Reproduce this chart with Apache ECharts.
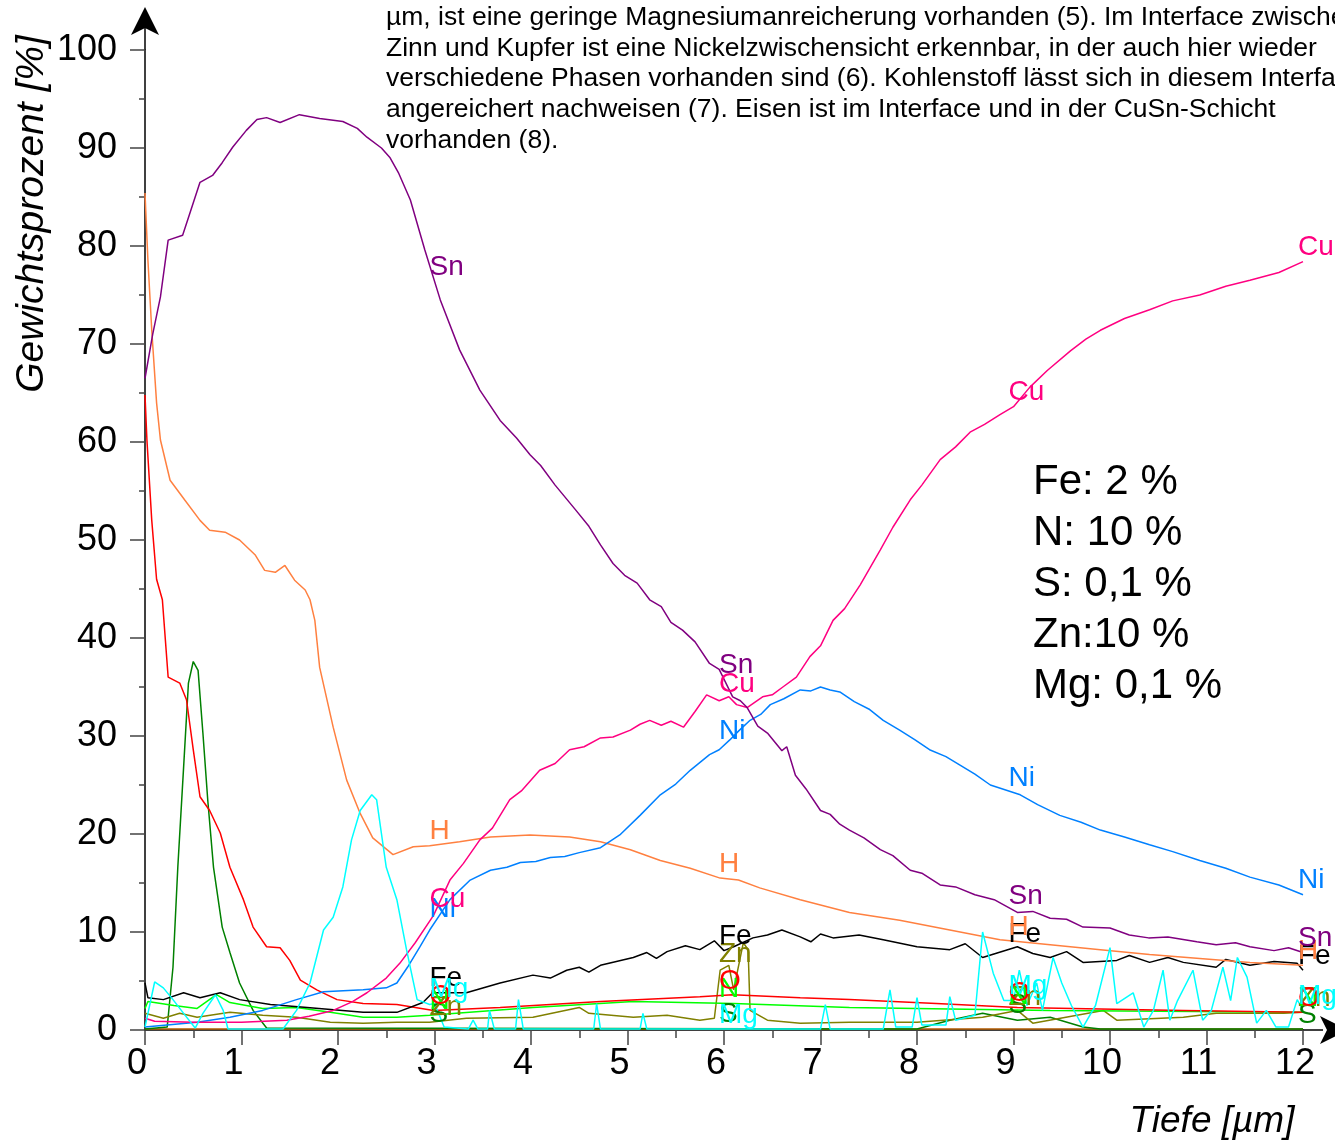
<!DOCTYPE html>
<html>
<head>
<meta charset="utf-8">
<script src="https://cdn.jsdelivr.net/npm/echarts@6/dist/echarts.min.js"></script>
<style>
  html, body { margin: 0; padding: 0; background: #fff; }
  #chart { width: 1335px; height: 1143px; }
</style>
</head>
<body>
<div id="chart"></div>
<script>
// Tiefenprofil: [Tiefe µm, Gewichtsprozent]
var snData = [[0,66.5],[0.08,71],[0.16,74.8],[0.24,80.6],[0.39,81.1],[0.47,83.5],[0.57,86.5],[0.7,87.2],[0.8,88.5],[0.91,90.1],[1.05,91.8],[1.16,92.9],[1.26,93.1],[1.4,92.6],[1.6,93.4],[1.81,93.0],[2.05,92.7],[2.2,92.0],[2.3,91.1],[2.45,90.0],[2.54,89.0],[2.63,87.4],[2.75,84.7],[2.9,79.6],[3.06,74.5],[3.26,69.4],[3.47,65.3],[3.68,62.2],[3.85,60.4],[3.99,58.7],[4.1,57.6],[4.25,55.6],[4.46,53.1],[4.6,51.4],[4.72,49.5],[4.85,47.6],[4.97,46.4],[5.1,45.6],[5.23,43.9],[5.35,43.2],[5.45,41.6],[5.57,40.8],[5.7,39.6],[5.85,37.4],[5.95,36.8],[6.09,34.0],[6.17,33.6],[6.24,32.9],[6.35,31.0],[6.45,30.3],[6.6,28.5],[6.65,28.9],[6.74,26.0],[6.85,24.6],[7.0,22.4],[7.1,22.0],[7.2,21.0],[7.3,20.4],[7.45,19.6],[7.62,18.4],[7.75,17.8],[7.93,16.3],[8.05,16.0],[8.24,14.8],[8.4,14.6],[8.6,13.8],[8.8,13.3],[9.04,12.0],[9.2,12.1],[9.38,11.4],[9.55,11.3],[9.72,10.5],[10.0,10.4],[10.2,9.7],[10.4,9.4],[10.6,9.5],[10.9,9.0],[11.1,8.7],[11.3,8.9],[11.45,8.5],[11.7,8.1],[11.85,8.4],[12,7.9]];
var cuData = [[0,1.2],[0.1,0.9],[0.5,0.8],[1.0,0.8],[1.47,1.0],[1.7,1.4],[1.95,2.0],[2.15,2.9],[2.3,3.8],[2.5,5.3],[2.64,6.8],[2.8,8.9],[2.99,11.7],[3.16,15.3],[3.3,17.0],[3.47,19.4],[3.6,20.6],[3.78,23.5],[3.9,24.4],[4.09,26.5],[4.25,27.2],[4.4,28.6],[4.55,28.9],[4.72,29.8],[4.85,29.9],[5.03,30.6],[5.13,31.2],[5.23,31.6],[5.35,31.1],[5.45,31.5],[5.58,30.9],[5.7,32.5],[5.82,34.2],[5.95,33.6],[6.05,34.0],[6.13,33.2],[6.24,32.9],[6.4,34.0],[6.5,34.2],[6.61,35.0],[6.75,36.0],[6.89,38.1],[7.0,39.2],[7.13,41.8],[7.25,43.0],[7.41,45.4],[7.62,49.0],[7.75,51.3],[7.93,54.1],[8.05,55.6],[8.24,58.2],[8.4,59.5],[8.55,61.0],[8.7,61.8],[8.86,62.8],[9.0,63.6],[9.17,65.6],[9.35,67.3],[9.59,69.3],[9.75,70.5],[9.9,71.4],[10.15,72.6],[10.41,73.5],[10.65,74.4],[10.93,75.0],[11.2,75.9],[11.45,76.5],[11.75,77.3],[12,78.4]];
var niData = [[0,0.3],[0.54,0.8],[0.88,1.3],[1.22,2.0],[1.57,3.1],[1.85,3.9],[2.26,4.1],[2.5,4.3],[2.61,4.8],[2.72,6.4],[2.85,8.5],[2.95,10.2],[3.16,13.3],[3.37,15.3],[3.58,16.3],[3.75,16.6],[3.89,17.1],[4.05,17.2],[4.2,17.6],[4.35,17.7],[4.5,18.1],[4.72,18.6],[4.92,19.9],[5.13,21.9],[5.34,24.0],[5.5,25.1],[5.65,26.5],[5.85,28.1],[5.95,28.6],[6.06,29.6],[6.15,30.5],[6.27,31.6],[6.38,32.2],[6.48,33.2],[6.62,33.8],[6.79,34.7],[6.9,34.6],[7.0,35.0],[7.1,34.7],[7.2,34.5],[7.35,33.5],[7.51,32.7],[7.65,31.6],[7.82,30.6],[7.98,29.6],[8.13,28.6],[8.3,27.9],[8.45,27.0],[8.6,26.1],[8.76,25.0],[9.07,24.0],[9.25,23.0],[9.48,21.9],[9.7,21.2],[9.9,20.4],[10.15,19.7],[10.41,18.9],[10.65,18.2],[10.93,17.3],[11.2,16.5],[11.45,15.6],[11.75,14.8],[12,13.8]];
var hData = [[0,85.4],[0.03,78.6],[0.07,71.4],[0.12,64],[0.16,60.2],[0.26,56.1],[0.41,54.1],[0.57,52.0],[0.67,51.0],[0.83,50.8],[0.98,50.0],[1.14,48.5],[1.24,46.9],[1.35,46.7],[1.45,47.4],[1.55,45.9],[1.66,44.9],[1.71,43.9],[1.76,41.8],[1.81,37.0],[1.95,30.9],[2.09,25.5],[2.23,22.1],[2.36,19.6],[2.57,17.9],[2.78,18.7],[2.95,18.8],[3.26,19.2],[3.58,19.7],[3.99,19.9],[4.4,19.7],[4.72,19.2],[5.03,18.4],[5.34,17.3],[5.65,16.5],[5.96,15.5],[6.15,15.3],[6.37,14.5],[6.79,13.3],[7.3,12.0],[7.82,11.2],[8.34,10.2],[8.86,9.2],[9.38,8.7],[9.9,8.2],[10.41,7.7],[10.93,7.3],[11.45,6.9],[12,6.6]];
var feData = [[0,4.8],[0.03,3.3],[0.19,3.1],[0.4,3.8],[0.57,3.3],[0.78,3.8],[0.98,3.1],[1.3,2.6],[1.68,2.3],[2.26,1.8],[2.61,1.8],[2.88,2.8],[2.98,3.8],[3.33,3.8],[3.68,4.8],[4.02,5.6],[4.2,5.3],[4.37,6.1],[4.5,6.4],[4.6,5.9],[4.72,6.6],[5.06,7.4],[5.2,7.9],[5.3,7.3],[5.41,8.0],[5.6,8.6],[5.75,8.2],[5.9,9.1],[6.0,8.1],[6.1,8.5],[6.3,9.4],[6.45,9.7],[6.6,10.2],[6.79,9.5],[6.9,9.0],[7.0,9.8],[7.13,9.4],[7.4,9.7],[7.65,9.2],[8.0,8.5],[8.34,8.2],[8.5,8.8],[8.68,7.4],[9.04,8.5],[9.2,7.8],[9.38,7.4],[9.55,8.0],[9.72,6.9],[10.07,7.1],[10.2,7.6],[10.41,6.9],[10.6,7.4],[10.76,6.9],[11.1,6.4],[11.2,7.2],[11.45,6.6],[11.7,7.0],[11.94,6.8],[12,6.1]];
var oData = [[0,64.8],[0.02,60.2],[0.07,52],[0.12,46],[0.18,43.9],[0.24,36.0],[0.36,35.4],[0.43,33.7],[0.5,28.6],[0.57,23.8],[0.67,22.4],[0.78,20.1],[0.88,16.6],[1.02,13.3],[1.12,10.5],[1.26,8.5],[1.4,8.4],[1.5,7.1],[1.61,5.1],[1.78,4.1],[1.99,3.1],[2.26,2.7],[2.61,2.6],[2.99,2.0],[3.68,2.3],[4.72,2.9],[5.75,3.4],[6.09,3.6],[6.79,3.3],[7.3,3.1],[8.2,2.7],[9.04,2.3],[10.76,2.0],[12,1.8]];
var nData = [[0,2.2],[0.03,2.9],[0.3,2.5],[0.54,2.2],[0.74,3.6],[0.88,2.8],[1.22,2.2],[1.57,2.3],[1.92,1.8],[2.26,1.3],[2.61,1.3],[2.95,1.5],[4.02,2.3],[5.06,2.9],[6.1,2.7],[7.3,2.3],[9.38,2.0],[12,1.8]];
var sData = [[0,0.1],[0.23,0.3],[0.29,6.4],[0.34,16.6],[0.4,26.8],[0.45,35.4],[0.5,37.6],[0.55,36.7],[0.6,30.3],[0.65,23.5],[0.71,16.6],[0.8,10.5],[0.88,7.9],[0.98,4.8],[1.12,2.0],[1.26,0.2],[8.0,0.1],[8.34,1.0],[8.68,1.7],[9.04,1.0],[9.38,1.3],[9.72,0.3],[9.9,0.1],[12,0.1]];
var mgData = [[0,0.3],[0.1,4.9],[0.19,4.3],[0.29,3.1],[0.4,1.7],[0.52,0.2],[0.6,1.7],[0.73,3.6],[0.81,2.0],[0.86,0.1],[1.43,0.1],[1.57,2.0],[1.71,4.8],[1.85,10.2],[1.95,11.5],[2.05,14.6],[2.14,19.4],[2.23,22.4],[2.35,24.0],[2.4,23.5],[2.5,16.6],[2.61,13.3],[2.71,8.2],[2.82,3.1],[2.95,2.6],[3.0,2.7],[3.1,0.3],[3.35,0.1],[3.4,1.0],[3.45,0.1],[3.55,0.1],[3.57,2.0],[3.62,0.1],[3.84,0.1],[3.87,3.1],[3.92,0.1],[4.65,0.1],[4.68,2.7],[4.72,0.1],[5.13,0.1],[5.16,1.7],[5.2,0.1],[7.0,0.1],[7.05,2.6],[7.1,0.1],[7.65,0.1],[7.72,4.1],[7.78,0.3],[7.95,0.3],[8.0,3.3],[8.05,0.5],[8.3,0.5],[8.34,3.4],[8.4,1.0],[8.6,1.5],[8.68,10.0],[8.79,5.8],[8.9,3.0],[9.0,3.0],[9.06,6.1],[9.14,2.5],[9.24,4.8],[9.3,2.0],[9.41,7.4],[9.5,4.8],[9.6,2.5],[9.72,0.3],[9.85,2.5],[10.0,8.4],[10.07,2.7],[10.24,3.8],[10.35,0.3],[10.45,2.0],[10.55,6.1],[10.62,1.0],[10.7,3.0],[10.86,6.1],[10.96,1.0],[11.05,2.0],[11.17,6.4],[11.25,3.0],[11.32,7.4],[11.42,5.4],[11.52,0.7],[11.62,2.0],[11.72,0.3],[11.85,0.3],[11.94,3.1],[12,2.0]];
var znData = [[0,1.7],[0.19,1.2],[0.36,1.7],[0.54,1.3],[0.88,1.8],[1.22,1.5],[1.57,1.3],[1.92,0.8],[2.26,0.7],[2.61,0.8],[2.95,0.8],[3.33,1.2],[4.02,1.3],[4.5,2.3],[4.6,1.7],[5.06,1.3],[5.41,1.5],[5.75,1.0],[5.9,1.2],[5.96,6.1],[6.05,6.6],[6.1,4.1],[6.2,8.9],[6.25,8.2],[6.27,2.0],[6.45,1.0],[6.79,0.7],[7.3,0.8],[8.0,0.8],[8.68,1.3],[9.04,2.0],[9.2,0.7],[9.93,2.0],[10.07,1.0],[10.76,1.3],[11.1,1.7],[11.8,1.7],[12,1.8]];
var cData = [[0,0.1],[12,0.1]];

var elements = [
    { name: 'C',  data: cData,  color: '#b05a00', label: false },
    { name: 'S',  data: sData,  color: '#008000', label: true },
    { name: 'Zn', data: znData, color: '#808000', label: true },
    { name: 'N',  data: nData,  color: '#00ff00', label: true },
    { name: 'O',  data: oData,  color: '#ff0000', label: true },
    { name: 'Fe', data: feData, color: '#000000', label: true },
    { name: 'H',  data: hData,  color: '#ff8040', label: true },
    { name: 'Ni', data: niData, color: '#0080ff', label: true },
    { name: 'Cu', data: cuData, color: '#ff0080', label: true },
    { name: 'Sn', data: snData, color: '#800080', label: true },
    { name: 'Mg', data: mgData, color: '#00ffff', label: true }
];
var labelDepths = [3, 6, 9, 12];

var paragraph = [
    'µm, ist eine geringe Magnesiumanreicherung vorhanden (5). Im Interface zwischen',
    'Zinn und Kupfer ist eine Nickelzwischensicht erkennbar, in der auch hier wieder',
    'verschiedene Phasen vorhanden sind (6). Kohlenstoff lässt sich in diesem Interface',
    'angereichert nachweisen (7). Eisen ist im Interface und in der CuSn-Schicht',
    'vorhanden (8).'
];
var notes = ['Fe: 2 %', 'N: 10 %', 'S: 0,1 %', 'Zn:10 %', 'Mg: 0,1 %'];

function valueAt(data, x) {
    for (var i = 1; i < data.length; i++) {
        if (data[i][0] >= x) {
            var a = data[i - 1], b = data[i];
            return a[1] + (b[1] - a[1]) * (x - a[0]) / (b[0] - a[0]);
        }
    }
    return data[data.length - 1][1];
}

var FONT = 'Liberation Sans, Arial, sans-serif';

var dom = document.getElementById('chart');
var myChart = echarts.init(dom, null, { renderer: 'canvas' });

var series = elements.map(function (el) {
    var s = {
        name: el.name,
        type: 'line',
        data: el.data,
        showSymbol: false,
        silent: true,
        lineStyle: { color: el.color, width: 1.5 },
        itemStyle: { color: el.color },
        z: 3
    };
    if (el.label) {
        s.markPoint = {
            symbol: 'circle',
            symbolSize: 0,
            silent: true,
            animation: false,
            itemStyle: { color: 'transparent' },
            label: {
                show: true,
                formatter: el.name,
                position: [-5, 0],
                align: 'left',
                verticalAlign: 'bottom',
                color: el.color,
                fontSize: 28,
                fontFamily: FONT
            },
            data: labelDepths.map(function (x) {
                return { coord: [x, valueAt(el.data, x)] };
            })
        };
    }
    return s;
});

var option = {
    animation: false,
    backgroundColor: '#fff',
    grid: { left: 145, right: 32, top: 50, bottom: 113 },
    xAxis: {
        type: 'value',
        min: 0,
        max: 12,
        interval: 1,
        splitLine: { show: false },
        axisLine: { show: true, onZero: false, lineStyle: { color: '#000', width: 1.5 } },
        axisTick: { show: true, length: 15, lineStyle: { color: '#444', width: 1.5 } },
        minorTick: { show: true, splitNumber: 2, length: 8, lineStyle: { color: '#444', width: 1.5 } },
        axisLabel: { fontSize: 36, color: '#000', fontFamily: FONT, margin: 16, padding: [0, 16, 0, 0] }
    },
    yAxis: {
        type: 'value',
        min: 0,
        max: 100,
        interval: 10,
        splitLine: { show: false },
        axisLine: { show: true, lineStyle: { color: '#000', width: 1.5 } },
        axisTick: { show: true, length: 15, lineStyle: { color: '#444', width: 1.5 } },
        minorTick: { show: true, splitNumber: 2, length: 6, lineStyle: { color: '#444', width: 1.5 } },
        axisLabel: { fontSize: 36, color: '#000', fontFamily: FONT, margin: 28 }
    },
    series: series
};

myChart.setOption(option);

// Achsenpfeile, Achsentitel und Texte
var origin = myChart.convertToPixel({ gridIndex: 0 }, [0, 0]);
var yEnd = myChart.convertToPixel({ gridIndex: 0 }, [0, 100]);
var xEnd = myChart.convertToPixel({ gridIndex: 0 }, [12, 0]);

var graphics = [
    { type: 'line', shape: { x1: origin[0], y1: yEnd[1], x2: origin[0], y2: yEnd[1] - 22 }, style: { stroke: '#000', lineWidth: 1.5 } },
    { type: 'polygon', shape: { points: [[origin[0], yEnd[1] - 43], [origin[0] - 14, yEnd[1] - 15], [origin[0], yEnd[1] - 22], [origin[0] + 14, yEnd[1] - 15]] }, style: { fill: '#000' } },
    { type: 'line', shape: { x1: xEnd[0], y1: origin[1], x2: xEnd[0] + 20, y2: origin[1] }, style: { stroke: '#000', lineWidth: 1.5 } },
    { type: 'polygon', shape: { points: [[xEnd[0] + 45, origin[1]], [xEnd[0] + 17, origin[1] - 14], [xEnd[0] + 24, origin[1]], [xEnd[0] + 17, origin[1] + 14]] }, style: { fill: '#000' } },
    { type: 'text', x: 32, y: 214, rotation: Math.PI / 2, style: { text: 'Gewichtsprozent [%]', font: 'italic 39px ' + FONT, fill: '#000', align: 'center', verticalAlign: 'middle' } },
    { type: 'text', x: 1212, y: 1122, style: { text: 'Tiefe [µm]', font: 'italic 37px ' + FONT, fill: '#000', align: 'center', verticalAlign: 'middle' } },
    { type: 'text', x: 1033, y: 457, style: { text: notes.join('\n'), font: '42px ' + FONT, lineHeight: 51, fill: '#000', align: 'left', verticalAlign: 'top' } },
    { type: 'text', x: 386, y: 2, style: { text: paragraph.join('\n'), font: '26.5px ' + FONT, lineHeight: 30.8, fill: '#000', align: 'left', verticalAlign: 'top' } }
];

myChart.setOption({ graphic: graphics });

window.addEventListener('resize', myChart.resize);
</script>
</body>
</html>
